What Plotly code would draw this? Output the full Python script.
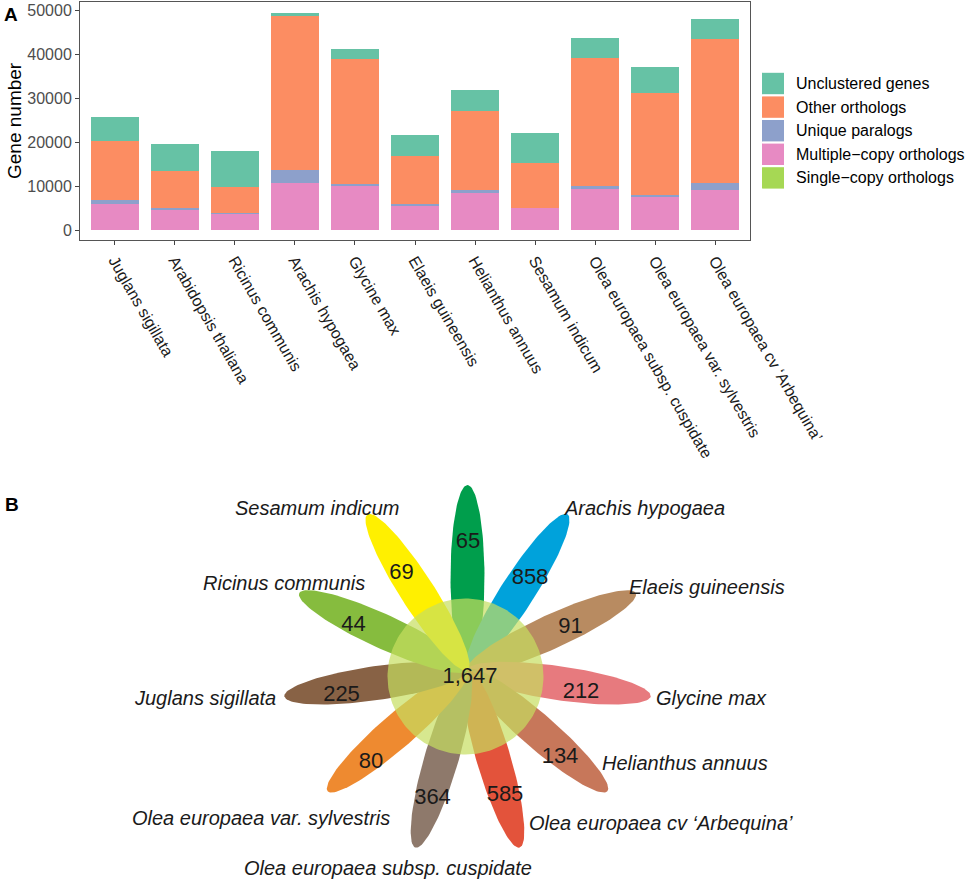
import math
import plotly.graph_objects as go

# ---------------- Panel A data ----------------
species = ["Juglans sigillata", "Arabidopsis thaliana", "Ricinus communis", "Arachis hypogaea",
           "Glycine max", "Elaeis guineensis", "Helianthus annuus", "Sesamum indicum",
           "Olea europaea subsp. cuspidate", "Olea europaea var. sylvestris",
           "Olea europaea cv \u2018Arbequina\u2019"]
single_copy = [60, 60, 60, 60, 60, 60, 60, 60, 60, 60, 60]
multiple_copy = [5930, 4710, 3790, 10620, 9860, 5550, 8270, 4940, 9180, 7590, 9030]
unique_paralogs = [760, 300, 90, 3030, 610, 230, 680, 80, 830, 230, 1520]
other_orthologs = [13410, 8330, 5760, 35150, 28260, 10910, 18030, 10080, 28940, 23180, 32730]
unclustered = [5530, 6140, 8330, 450, 2270, 4930, 4700, 6820, 4550, 6060, 4700]
y_ticks = [0, 10000, 20000, 30000, 40000, 50000]

# ---------------- Panel B data ----------------
petal_species = ["Arabidopsis thaliana", "Arachis hypogaea", "Elaeis guineensis", "Glycine max",
                 "Helianthus annuus", "Olea europaea cv \u2018Arbequina\u2019",
                 "Olea europaea subsp. cuspidate", "Olea europaea var. sylvestris",
                 "Juglans sigillata", "Ricinus communis", "Sesamum indicum"]
petal_counts = [65, 858, 91, 212, 134, 585, 364, 80, 225, 44, 69]
core_count = 1647

# ---------------- styles / layout constants ----------------
W, H = 969, 885
FONT = "Liberation Sans, Arial, Helvetica, sans-serif"
series = [
    ("Single\u2212copy orthologs", single_copy, "#A6D854"),
    ("Multiple\u2212copy orthologs", multiple_copy, "#E78AC3"),
    ("Unique paralogs", unique_paralogs, "#8DA0CB"),
    ("Other orthologs", other_orthologs, "#FC8D62"),
    ("Unclustered genes", unclustered, "#66C2A5"),
]
petal_colors = ["#009E4C", "#00A2DB", "#B88B61", "#E77A7E", "#C7775A", "#E3533B",
                "#8E796B", "#EE8A30", "#886245", "#86BC3E", "#FFF000"]
# number label offsets (flower units = px), species label placements
num_pos = [(0.5, 128), (62.5, 92), (103, 43), (113.5, -22), (92.5, -87), (37.5, -125),
           (-35, -128), (-96.5, -92), (-126, -25), (-114, 45), (-66, 97)]
name_pos = [None, (94.5, 162, "left"), (159.5, 83, "left"), (186.5, -28, "left"),
            (132.5, -93, "left"), (59.5, -153, "left"), (-79.5, -198, "center"),
            (-75.5, -148, "right"), (-189.5, -28, "right"), (-100.5, 87, "right"),
            (-65.5, 162, "right")]
petal_a, petal_b = 92.5, 17.0
cx0, cy0 = 467.5, 670  # flower centre in page px


def px(x):
    return x / W


def py(y):
    return 1 - y / H


fig = go.Figure()

# ---- stacked bars ----
for name, vals, col in series:
    fig.add_trace(go.Bar(x=species, y=vals, name=name, marker=dict(color=col, line=dict(width=0)),
                         xaxis="x", yaxis="y", showlegend=False, hoverinfo="skip"))

# ---- flower petals ----
n = len(petal_counts)
for i in range(n):
    th = math.radians(90 - i * 360.0 / n)
    xs, ys = [], []
    for k in range(121):
        t = 2 * math.pi * k / 120
        u, v = petal_a + petal_a * math.cos(t), petal_b * math.sin(t)
        xs.append(u * math.cos(th) - v * math.sin(th))
        ys.append(u * math.sin(th) + v * math.cos(th))
    fig.add_trace(go.Scatter(x=xs, y=ys, mode="lines", fill="toself", fillcolor=petal_colors[i],
                             line=dict(width=0), xaxis="x2", yaxis="y2", showlegend=False,
                             hoverinfo="skip"))

# centre circle
ccx, ccy, cr = -2, -6.5, 78
cxs = [ccx + cr * math.cos(2 * math.pi * k / 180) for k in range(181)]
cys = [ccy + cr * math.sin(2 * math.pi * k / 180) for k in range(181)]
fig.add_trace(go.Scatter(x=cxs, y=cys, mode="lines", fill="toself",
                         fillcolor="rgba(198,222,95,0.70)", line=dict(width=0),
                         xaxis="x2", yaxis="y2", showlegend=False, hoverinfo="skip"))

# counts
fig.add_trace(go.Scatter(x=[p[0] for p in num_pos] + [2.5], y=[p[1] for p in num_pos] + [-7],
                         mode="text",
                         text=[str(c) for c in petal_counts] + [f"{core_count:,}"],
                         textfont=dict(family=FONT, size=22, color="#1a1a1a"),
                         textposition="middle center", xaxis="x2", yaxis="y2",
                         showlegend=False, hoverinfo="skip"))

annotations = []
for sp, pos in zip(petal_species, name_pos):
    if pos is None:
        continue
    annotations.append(dict(x=pos[0], y=pos[1], xref="x2", yref="y2", text=f"<i>{sp}</i>",
                            showarrow=False, xanchor=pos[2], yanchor="middle",
                            font=dict(family=FONT, size=20, color="#1a1a1a")))

# panel letters
annotations.append(dict(x=px(2), y=py(14), xref="paper", yref="paper", text="<b>A</b>",
                        showarrow=False, xanchor="left", yanchor="middle",
                        font=dict(family=FONT, size=19, color="black")))
annotations.append(dict(x=px(3), y=py(504), xref="paper", yref="paper", text="<b>B</b>",
                        showarrow=False, xanchor="left", yanchor="middle",
                        font=dict(family=FONT, size=19, color="black")))
# y title
annotations.append(dict(x=px(14), y=py(121), xref="paper", yref="paper", text="Gene number",
                        showarrow=False, textangle=-90, xanchor="center", yanchor="middle",
                        font=dict(family=FONT, size=19, color="black")))

# custom legend
shapes = []
legend_order = list(reversed(series))
for j, (name, _, col) in enumerate(legend_order):
    yc = 83.5 + j * 23.6
    shapes.append(dict(type="rect", xref="paper", yref="paper", x0=px(762), x1=px(784),
                       y0=py(yc + 10.7), y1=py(yc - 10.7), fillcolor=col, line=dict(width=0)))
    annotations.append(dict(x=px(794), y=py(yc), xref="paper", yref="paper", text=name,
                            showarrow=False, xanchor="left", yanchor="middle",
                            font=dict(family=FONT, size=16, color="black")))

fig.update_layout(
    template="none",
    width=W, height=H, autosize=False, margin=dict(l=0, r=0, t=0, b=0, pad=0),
    paper_bgcolor="white", plot_bgcolor="white", showlegend=False,
    barmode="stack", bargap=0.2,
    font=dict(family=FONT),
    xaxis=dict(domain=[px(80), px(750)], range=[-0.58, 10.58], tickangle=60,
               tickfont=dict(family=FONT, size=16, color="#1a1a1a"),
               showline=True, mirror=True, linecolor="#555555", linewidth=1,
               ticks="outside", ticklen=4, tickcolor="#444444", showgrid=False, zeroline=False,
               anchor="y", fixedrange=True, automargin=False),
    yaxis=dict(domain=[py(240), py(2)], range=[-2273, 51818], tickvals=y_ticks,
               ticktext=[str(v) for v in y_ticks],
               tickfont=dict(family=FONT, size=16, color="#4D4D4D"),
               showline=True, mirror=True, linecolor="#555555", linewidth=1,
               ticks="outside", ticklen=4, tickcolor="#444444", showgrid=False, zeroline=False,
               anchor="x", fixedrange=True, automargin=False),
    xaxis2=dict(domain=[0, 1], range=[-cx0, W - cx0], visible=False, anchor="y2",
                fixedrange=True, automargin=False),
    yaxis2=dict(domain=[0, py(470)], range=[cy0 - H, cy0 - 470], visible=False, anchor="x2",
                fixedrange=True, automargin=False),
    annotations=annotations,
    shapes=shapes,
)

fig.write_html("out.html", config={"responsive": False, "displayModeBar": False},
               post_script="document.body.style.margin='0';document.body.style.overflow='hidden';")
